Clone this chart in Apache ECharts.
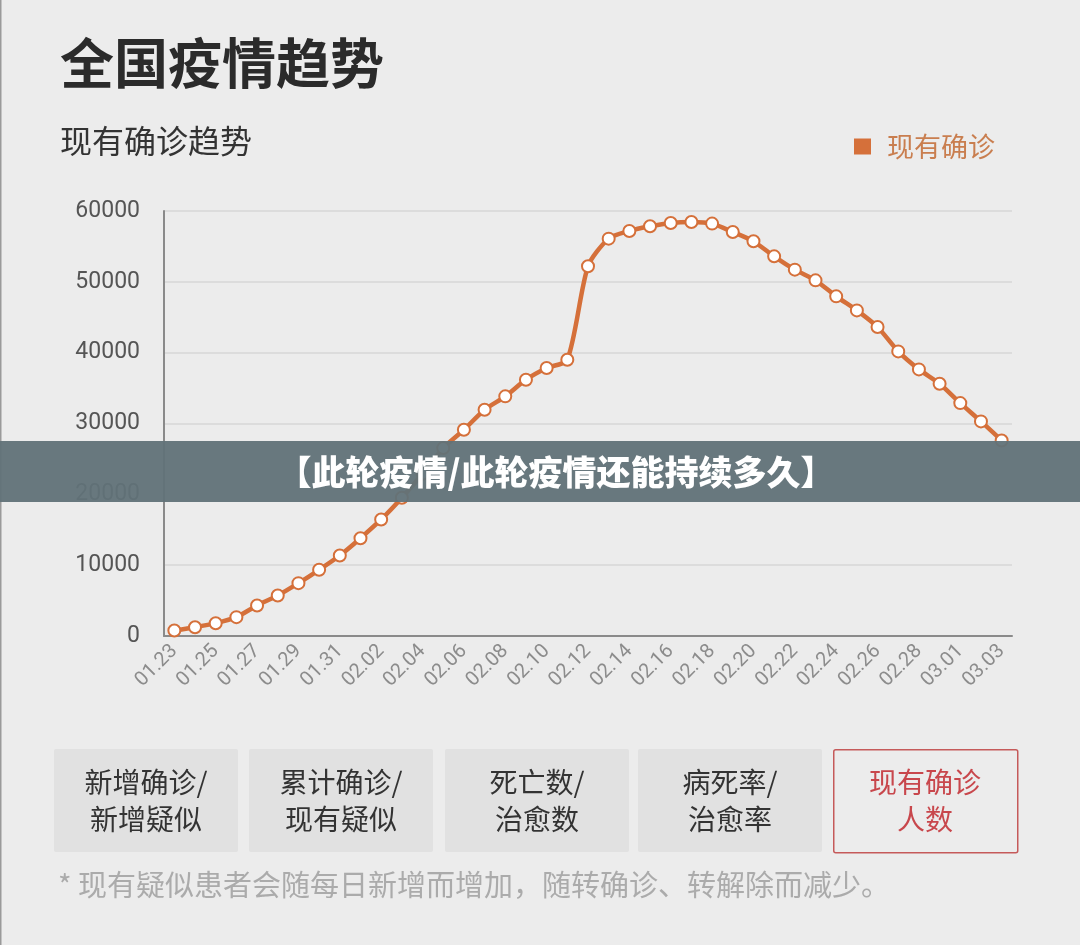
<!DOCTYPE html>
<html>
<head>
<meta charset="utf-8">
<style>
html,body{margin:0;padding:0;background:#ececec;}
#chart{width:1080px;height:945px;}
</style>
<script src="https://cdn.jsdelivr.net/npm/echarts@6/dist/echarts.min.js"></script>
</head>
<body>
<div id="chart"></div>
<script>
const dates = ['01.23','01.24','01.25','01.26','01.27','01.28','01.29','01.30','01.31',
  '02.01','02.02','02.03','02.04','02.05','02.06','02.07','02.08','02.09','02.10','02.11',
  '02.12','02.13','02.14','02.15','02.16','02.17','02.18','02.19','02.20','02.21','02.22',
  '02.23','02.24','02.25','02.26','02.27','02.28','02.29','03.01','03.02','03.03'];
const existingConfirmed = [780, 1240, 1810, 2660, 4310, 5720, 7460, 9350, 11370,
  13810, 16450, 19520, 22900, 26530, 29120, 31950, 33830, 36180, 37830, 39010,
  52190, 56100, 57180, 57840, 58310, 58450, 58220, 57030, 55720, 53600, 51720,
  50210, 47950, 45970, 43620, 40180, 37640, 35620, 32880, 30300, 27610];
const yTicks = [0, 10000, 20000, 30000, 40000, 50000, 60000];
const seriesName = '现有确诊';
const buttonLabels = [['新增确诊/','新增疑似'],['累计确诊/','现有疑似'],['死亡数/','治愈数'],['病死率/','治愈率'],['现有确诊','人数']];

const FONT = '"Noto Sans CJK SC","Noto Sans",sans-serif';
const chart = echarts.init(document.getElementById('chart'));

const buttonX = [54, 249, 445, 638, 833];
const buttonW = 184;
const graphics = [
  {type:'rect', left:0, top:0, shape:{width:1.5, height:945}, style:{fill:'#9a9a9a'}, silent:true},
  {type:'text', left:60, top:36, style:{text:'全国疫情趋势', font:'bold 54px '+FONT, fill:'#2b2b2b'}},
  {type:'text', left:60, top:125, style:{text:'现有确诊趋势', font:'32px '+FONT, fill:'#333'}}
];
buttonLabels.forEach((lab, i) => {
  const active = i === 4;
  graphics.push({type:'rect', left:buttonX[i], top:749, z:10,
    shape:{width:buttonW, height:103, r:2},
    style: active ? {fill:'#ececec', stroke:'#c55a5a', lineWidth:1.5} : {fill:'#e1e1e1'}});
  graphics.push({type:'text', x:buttonX[i]+buttonW/2, y:782, z:11,
    style:{text:lab[0], font:'28px '+FONT, fill: active ? '#c8474c' : '#333', align:'center', verticalAlign:'middle'}});
  graphics.push({type:'text', x:buttonX[i]+buttonW/2, y:819, z:11,
    style:{text:lab[1], font:'28px '+FONT, fill: active ? '#c8474c' : '#333', align:'center', verticalAlign:'middle'}});
});
graphics.push({type:'text', left:58, top:870, style:{text:'* 现有疑似患者会随每日新增而增加，随转确诊、转解除而减少。', font:'29px '+FONT, fill:'#ababab'}});
graphics.push({type:'rect', left:0, top:441, z:100, shape:{width:1080, height:61}, style:{fill:'rgba(97,114,120,0.95)'}});
graphics.push({type:'text', x:556, y:472, z:101, style:{text:'【此轮疫情/此轮疫情还能持续多久】', font:'900 34px '+FONT, fill:'#ffffff', align:'center', verticalAlign:'middle'}});

chart.setOption({
  backgroundColor:'#ececec',
  animation:false,
  legend:{
    data:[{name:seriesName, icon:'rect'}],
    right:80, top:128, itemWidth:15, itemHeight:14, itemGap:14,
    textStyle:{color:'#c97e4f', fontSize:27, fontFamily:FONT, padding:[0,0,0,12]}
  },
  grid:{left:164, right:68, top:211, bottom:309},
  xAxis:{
    type:'category', data:dates, boundaryGap:true,
    axisLine:{lineStyle:{color:'#8a8a8a', width:2}},
    axisTick:{show:false},
    axisLabel:{rotate:45, interval:1, color:'#8c8c8c', fontSize:20, fontFamily:'"Roboto",sans-serif', margin:12}
  },
  yAxis:{
    type:'value', min:yTicks[0], max:yTicks[yTicks.length-1], interval:10000,
    axisLine:{show:true, lineStyle:{color:'#8a8a8a', width:2}},
    axisTick:{show:false},
    axisLabel:{color:'#555', fontSize:23, fontFamily:'"Roboto",sans-serif', margin:24, formatter:(v) => String(v)},
    splitLine:{lineStyle:{color:'#dcdcdc', width:2}}
  },
  series:[{
    name:seriesName, type:'line', data:existingConfirmed, smooth:0.25,
    symbol:'emptyCircle', symbolSize:12,
    itemStyle:{color:'#d5703a', borderWidth:2.5, borderColor:'#d5703a'},
    lineStyle:{color:'#d5703a', width:4.5},
    color:'#e06a2c'
  }],
  graphic:graphics
});
</script>
</body>
</html>
